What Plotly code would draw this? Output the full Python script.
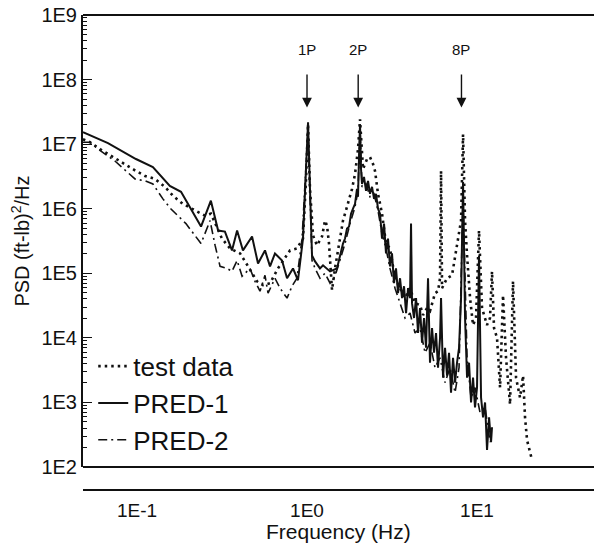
import math
import plotly.graph_objects as go

# ---- data ----
test_f = [0.0481, 0.0529, 0.0606, 0.0752, 0.0850, 0.0986, 0.1115, 0.1276, 0.146, 0.163,
          0.186, 0.219, 0.251, 0.272, 0.288, 0.316, 0.353, 0.404, 0.450, 0.508,
          0.551, 0.606, 0.675, 0.742, 0.794, 0.873, 0.947, 0.987, 1.014, 1.041,
          1.085, 1.145, 1.225, 1.276, 1.311, 1.347, 1.403, 1.461, 1.564, 1.628,
          1.719, 1.840, 1.916, 1.995, 2.050, 2.135, 2.254, 2.347, 2.445, 2.512,
          2.616, 2.762, 2.915, 3.077, 3.294, 3.525, 3.772, 4.035, 4.319, 4.621,
          4.813, 5.080, 5.290, 5.662, 5.897, 6.059, 6.142, 6.226, 6.661, 7.128,
          7.424, 7.732, 8.053, 8.275, 8.502, 8.736, 9.099, 9.474, 9.865, 10.27,
          10.70, 11.45, 11.92, 12.25, 12.59, 13.11, 13.66, 14.22, 14.81, 15.64,
          16.28, 16.96, 17.90, 18.65, 19.16, 19.69, 20.50, 21.06]
test_psd = [1.19e7, 1.07e7, 8.38e6, 5.88e6, 4.92e6, 3.84e6, 3.22e6, 2.89e6, 2.18e6, 1.58e6,
            1.19e6, 9.32e5, 7.80e5, 8.38e5, 5.88e5, 3.45e5, 2.42e5, 2.03e5, 1.28e5, 7.53e4,
            6.54e4, 7.02e4, 1.19e5, 1.70e5, 2.26e5, 2.42e5, 3.45e5, 2.89e6, 2.03e7, 2.03e6,
            3.84e5, 2.70e5, 3.71e5, 6.54e5, 5.48e5, 2.89e5, 5.48e4, 1.19e5, 3.45e5, 6.54e5,
            1.07e6, 2.03e6, 3.45e6, 8.38e6, 2.42e7, 4.12e6, 5.88e6, 6.31e6, 4.92e6, 3.84e6,
            1.70e6, 8.38e5, 2.89e5, 2.42e5, 8.38e4, 5.88e4, 4.12e4, 5.88e4, 3.45e4, 3.22e4,
            2.26e4, 2.89e4, 2.60e4, 4.92e4, 5.28e4, 8.38e4, 3.84e6, 5.88e4, 8.38e4, 9.32e4,
            1.89e5, 3.84e5, 6.54e5, 1.42e7, 6.54e5, 1.89e5, 4.12e4, 1.58e4, 2.03e4, 4.59e5,
            2.89e4, 1.58e4, 2.03e4, 1.07e5, 1.42e4, 1.0e4, 1.70e3, 4.59e4, 4.92e3, 932,
            7.53e4, 2.42e3, 1.19e3, 2.60e3, 588, 260, 170, 128]

pred1_f = [0.0481, 0.0675, 0.0986, 0.124, 0.156, 0.1815, 0.238, 0.272, 0.300, 0.329,
           0.362, 0.388, 0.420, 0.475, 0.515, 0.566, 0.606, 0.648, 0.713, 0.763,
           0.827, 0.885, 0.947, 0.987, 1.014, 1.041, 1.070, 1.115, 1.192, 1.242,
           1.366, 1.501, 1.564, 1.628, 1.673, 1.719, 1.767, 1.815, 1.865, 1.916,
           1.968, 1.995, 2.022, 2.050, 2.078, 2.106, 2.164, 2.224, 2.285, 2.347,
           2.412, 2.479, 2.546, 2.616, 2.688, 2.762, 2.838, 2.915, 2.995, 3.077,
           3.162, 3.249, 3.338, 3.430, 3.525, 3.622, 3.721, 3.824, 3.929, 4.035,
           4.091, 4.146, 4.261, 4.378, 4.497, 4.621, 4.748, 4.878, 5.012, 5.150,
           5.290, 5.436, 5.585, 5.739, 5.897, 6.059, 6.142, 6.310, 6.483, 6.661,
           6.844, 7.032, 7.225, 7.424, 7.628, 7.838, 8.053, 8.275, 8.502, 8.736,
           8.976, 9.222, 9.474, 9.732, 10.0, 10.27, 10.56, 10.85, 11.15, 11.45,
           11.77, 12.09, 12.25]
pred1_psd = [1.53e7, 1.04e7, 5.88e6, 4.43e6, 2.26e6, 1.83e6, 5.28e5, 1.33e6, 4.59e5, 4.43e5,
             2.26e5, 4.59e5, 2.26e5, 3.71e5, 1.42e5, 2.26e5, 1.28e5, 2.03e5, 1.58e5, 8.38e4,
             1.19e5, 7.80e4, 3.45e5, 4.12e6, 2.18e7, 2.03e6, 1.89e5, 1.53e5, 1.19e5, 1.33e5,
             1.07e5, 1.19e5, 1.89e5, 2.89e5, 3.45e5, 4.92e5, 5.28e5, 8.38e5, 1.0e6, 1.19e6,
             2.03e6, 1.53e6, 5.88e6, 2.03e7, 4.12e6, 2.42e6, 3.11e6, 1.89e6, 2.70e6, 1.70e6,
             2.18e6, 1.42e6, 1.70e6, 1.0e6, 8.38e5, 3.45e5, 5.88e5, 2.03e5, 3.45e5, 1.28e5,
             2.03e5, 7.02e4, 1.19e5, 4.92e4, 8.38e4, 4.12e4, 6.31e4, 2.42e4, 5.88e4, 4.12e4,
             5.88e5, 3.45e4, 2.03e4, 4.12e4, 1.19e4, 2.89e4, 8.38e3, 2.03e4, 7.02e3, 8.38e4,
             4.12e3, 1.42e4, 5.88e3, 1.19e4, 3.45e3, 1.0e4, 4.12e4, 2.42e3, 7.02e3, 2.60e3,
             5.88e3, 1.42e3, 4.92e3, 2.03e3, 4.12e3, 7.02e3, 4.12e4, 2.60e6, 2.03e4, 2.42e3,
             4.12e3, 1.0e3, 2.42e3, 838, 1.70e3, 1.89e5, 1.19e3, 588, 1.0e3, 183,
             588, 242, 412]

pred2_f = [0.0481, 0.0529, 0.0590, 0.0742, 0.0973, 0.1115, 0.124, 0.142, 0.158, 0.194,
           0.238, 0.269, 0.288, 0.308, 0.338, 0.362, 0.388, 0.415, 0.462, 0.494,
           0.529, 0.566, 0.590, 0.648, 0.694, 0.763, 0.816, 0.873, 0.935, 0.973,
           1.014, 1.041, 1.070, 1.115, 1.192, 1.276, 1.366, 1.461, 1.564, 1.673,
           1.790, 1.916, 1.995, 2.050, 2.106, 2.224, 2.347, 2.479, 2.616, 2.762,
           2.915, 3.077, 3.294, 3.525, 3.772, 4.035, 4.319, 4.621, 4.944, 5.290,
           5.662, 6.059, 6.483, 6.937, 7.424, 7.838, 8.275, 8.736, 9.222, 9.732,
           10.41, 11.15, 11.92]
pred2_psd = [1.07e7, 1.07e7, 8.38e6, 5.48e6, 2.89e6, 2.70e6, 2.42e6, 1.42e6, 1.0e6, 5.88e5,
             2.89e5, 6.54e5, 2.70e5, 1.28e5, 1.19e5, 1.07e5, 1.58e5, 8.99e4, 1.19e5, 7.53e4,
             5.28e4, 9.32e4, 4.92e4, 8.38e4, 5.88e4, 4.12e4, 6.31e4, 8.38e4, 3.45e5, 2.89e6,
             1.83e7, 1.70e6, 1.58e5, 1.19e5, 8.38e4, 1.0e5, 7.02e4, 8.99e4, 1.58e5, 2.89e5,
             5.88e5, 1.07e6, 1.89e6, 1.70e7, 2.18e6, 2.42e6, 1.53e6, 1.70e6, 9.32e5, 4.12e5,
             2.42e5, 1.19e5, 5.88e4, 3.45e4, 2.03e4, 2.42e4, 1.19e4, 1.42e4, 5.88e3, 8.38e3,
             3.45e3, 4.92e3, 2.03e3, 3.45e3, 1.42e3, 3.45e3, 1.42e6, 4.92e3, 1.19e3, 1.70e3,
             702, 838, 242]

ytick_vals = [1e2, 1e3, 1e4, 1e5, 1e6, 1e7, 1e8, 1e9]
ytick_text = ["1E2", "1E3", "1E4", "1E5", "1E6", "1E7", "1E8", "1E9"]
xtick_vals = [0.1, 1, 10]
xtick_text = ["1E-1", "1E0", "1E1"]
marker_labels = ["1P", "2P", "8P"]
marker_freqs = [1.0, 2.0, 8.1]
marker_tip_psd = 3.7e7

FONT = "Liberation Sans, Arial, Helvetica, sans-serif"
INK = "#111111"

y_minor = [k * 10 ** d for d in range(2, 9) for k in range(2, 10)]

fig = go.Figure()
fig.add_trace(go.Scatter(x=test_f, y=test_psd, mode="lines", name="test data",
                         line=dict(color=INK, width=2.6, dash="2.5px,4px")))
fig.add_trace(go.Scatter(x=pred1_f, y=pred1_psd, mode="lines", name="PRED-1",
                         line=dict(color=INK, width=2)))
fig.add_trace(go.Scatter(x=pred2_f, y=pred2_psd, mode="lines", name="PRED-2",
                         line=dict(color=INK, width=1.6, dash="9px,4px,2px,4px")))

for lab, fr in zip(marker_labels, marker_freqs):
    fig.add_annotation(x=math.log10(fr), y=math.log10(marker_tip_psd), xref="x", yref="y",
                       text=lab, showarrow=True, ax=0, ay=-58, arrowhead=2,
                       arrowsize=1.4, arrowwidth=1.4, arrowcolor=INK, startstandoff=15,
                       font=dict(family=FONT, size=15, color=INK))

# x-axis title placed just under the tick labels
fig.add_annotation(x=0.5, y=-0.0884, xref="paper", yref="paper", text="Frequency (Hz)",
                   showarrow=False, xanchor="center", yanchor="middle",
                   font=dict(family=FONT, size=21, color=INK))

# frame lines
fig.add_shape(type="line", xref="paper", yref="y domain", x0=0, x1=1, y0=1, y1=1,
              line=dict(color=INK, width=2))
fig.add_shape(type="line", xref="paper", yref="y domain", x0=0, x1=1, y0=0, y1=0,
              line=dict(color=INK, width=2))

fig.update_layout(
    width=594, height=543,
    margin=dict(l=83, r=0, t=15, b=53),
    paper_bgcolor="white", plot_bgcolor="white",
    font=dict(family=FONT, color=INK),
    showlegend=True,
    legend=dict(x=0.02, y=0.31, xanchor="left", yanchor="top",
                font=dict(family=FONT, size=26, color=INK),
                bgcolor="rgba(0,0,0,0)", tracegroupgap=0, itemwidth=30),
    xaxis=dict(type="log", range=[-1.3176, 1.688], anchor="free", position=0,
               tickmode="array", tickvals=xtick_vals, ticktext=xtick_text,
               tickfont=dict(size=19), ticks="outside", ticklen=3,
               tickcolor="rgba(0,0,0,0)",
               showline=True, linecolor=INK, linewidth=2, showgrid=False, zeroline=False),
    yaxis=dict(type="log", range=[2, 9], domain=[23/475, 1],
               tickmode="array", tickvals=ytick_vals, ticktext=ytick_text,
               tickfont=dict(size=20), ticks="inside", ticklen=9, tickcolor=INK,
               minor=dict(tickmode="array", tickvals=y_minor, ticks="inside", ticklen=4,
                          tickcolor=INK, showgrid=False),
               showline=True, linecolor=INK, linewidth=2, showgrid=False, zeroline=False,
               title=dict(text="PSD (ft-lb)<sup>2</sup>/Hz", font=dict(size=20), standoff=6)),
)

fig.write_html("out.html")
